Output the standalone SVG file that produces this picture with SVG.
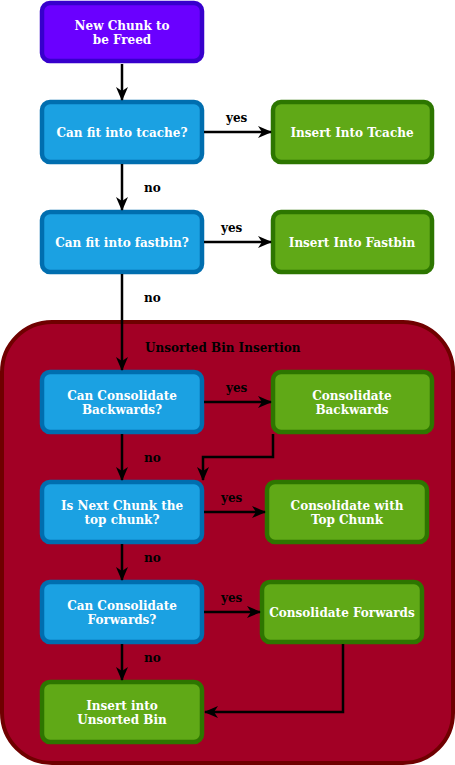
<svg xmlns="http://www.w3.org/2000/svg" width="455" height="765" viewBox="0 0 455 765">
<defs>
<style>
.n rect{stroke-width:4.5}
.p rect{fill:#6a00ff;stroke:#3700cc}
.b rect{fill:#1ba1e2;stroke:#006eaf}
.g rect{fill:#60a917;stroke:#2d7600}
.n text{font-family:"DejaVu Serif",serif;font-weight:bold;font-size:12px;fill:#ffffff;text-anchor:middle}
.lbl{font-family:"DejaVu Serif",serif;font-weight:bold;font-size:12px;fill:#000000}
.e path{fill:none;stroke:#000000;stroke-width:2.5}
</style>
<marker id="ah" viewBox="0 0 14 14" refX="13" refY="7" markerWidth="14" markerHeight="14" markerUnits="userSpaceOnUse" orient="auto">
<path d="M0,1 L14,7 L0,13 L4,7 Z" fill="#000000"/>
</marker>
</defs>
<g id="container">
<rect x="2" y="322" width="451" height="441" rx="50" fill="#a20025" stroke="#6f0000" stroke-width="4"/>
<text class="lbl" x="145" y="352">Unsorted Bin Insertion</text>
</g>
<g id="n-new" class="n p"><rect x="42" y="3" width="160" height="58" rx="8"/><text x="122" y="30">New Chunk to</text><text x="122" y="44">be Freed</text></g>
<g id="n-tcache" class="n b"><rect x="42" y="102" width="160" height="60" rx="8"/><text x="122" y="137">Can fit into tcache?</text></g>
<g id="n-ins-tcache" class="n g"><rect x="273" y="102" width="159" height="60" rx="8"/><text x="352" y="137">Insert Into Tcache</text></g>
<g id="n-fastbin" class="n b"><rect x="42" y="212" width="160" height="60" rx="8"/><text x="122" y="247">Can fit into fastbin?</text></g>
<g id="n-ins-fastbin" class="n g"><rect x="273" y="212" width="159" height="60" rx="8"/><text x="352" y="247">Insert Into Fastbin</text></g>
<g id="n-cb" class="n b"><rect x="42" y="372" width="160" height="60" rx="8"/><text x="122" y="400">Can Consolidate</text><text x="122" y="414">Backwards?</text></g>
<g id="n-cbk" class="n g"><rect x="273" y="372" width="159" height="60" rx="8"/><text x="352" y="400">Consolidate</text><text x="352" y="414">Backwards</text></g>
<g id="n-top" class="n b"><rect x="42" y="482" width="160" height="60" rx="8"/><text x="122" y="510">Is Next Chunk the</text><text x="122" y="524">top chunk?</text></g>
<g id="n-ctop" class="n g"><rect x="267" y="482" width="160" height="60" rx="8"/><text x="347" y="510">Consolidate with</text><text x="347" y="524">Top Chunk</text></g>
<g id="n-cf" class="n b"><rect x="42" y="582" width="160" height="60" rx="8"/><text x="122" y="610">Can Consolidate</text><text x="122" y="624">Forwards?</text></g>
<g id="n-cfw" class="n g"><rect x="262" y="582" width="160" height="60" rx="8"/><text x="342" y="617">Consolidate Forwards</text></g>
<g id="n-ins-unsorted" class="n g"><rect x="42" y="682" width="160" height="60" rx="8"/><text x="122" y="710">Insert into</text><text x="122" y="724">Unsorted Bin</text></g>
<g id="edges" class="e">
<path d="M122,64 L122,100" marker-end="url(#ah)"/>
<path d="M204,132 L271,132" marker-end="url(#ah)"/>
<path d="M122,164 L122,210" marker-end="url(#ah)"/>
<path d="M204,242 L271,242" marker-end="url(#ah)"/>
<path d="M122,274 L122,370" marker-end="url(#ah)"/>
<path d="M204,402 L271,402" marker-end="url(#ah)"/>
<path d="M273,434 L273,457 L203,457 L203,480" marker-end="url(#ah)"/>
<path d="M122,434 L122,480" marker-end="url(#ah)"/>
<path d="M204,512 L265,512" marker-end="url(#ah)"/>
<path d="M122,544 L122,580" marker-end="url(#ah)"/>
<path d="M204,612 L260,612" marker-end="url(#ah)"/>
<path d="M122,644 L122,680" marker-end="url(#ah)"/>
<path d="M343,644 L343,712 L205,712" marker-end="url(#ah)"/>
<text class="lbl" x="226" y="122">yes</text>
<text class="lbl" x="144" y="192">no</text>
<text class="lbl" x="221" y="232">yes</text>
<text class="lbl" x="144" y="302">no</text>
<text class="lbl" x="226" y="392">yes</text>
<text class="lbl" x="144" y="462">no</text>
<text class="lbl" x="221" y="502">yes</text>
<text class="lbl" x="144" y="562">no</text>
<text class="lbl" x="221" y="602">yes</text>
<text class="lbl" x="144" y="662">no</text>
</g>
</svg>
